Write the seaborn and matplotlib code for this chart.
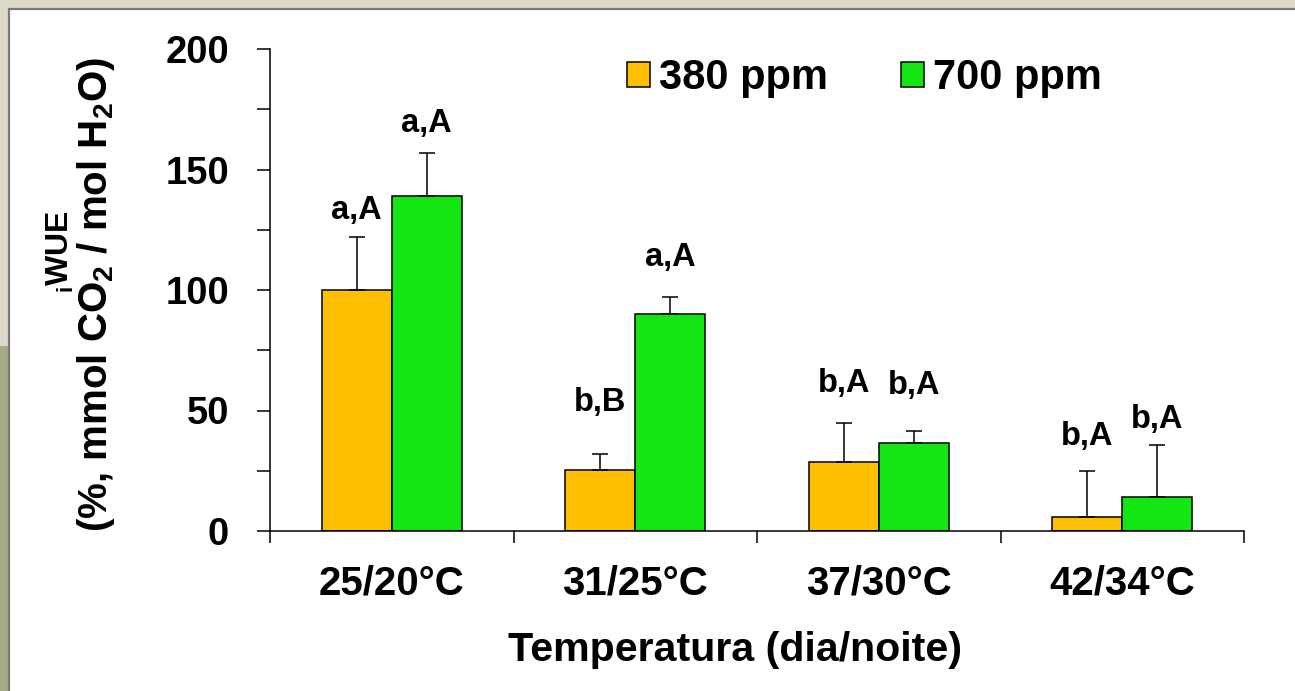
import numpy as np
import pandas as pd
import matplotlib
matplotlib.use("Agg")
import matplotlib.pyplot as plt
from matplotlib.patches import Rectangle
from matplotlib.lines import Line2D
import seaborn as sns

# --- data -------------------------------------------------------------
temperatures = ["25/20°C", "31/25°C", "37/30°C", "42/34°C"]
co2_levels = ["380 ppm", "700 ppm"]
wue_380 = [100, 25.5, 28.5, 6]
wue_700 = [139, 90, 36.5, 14]
err_380 = [22, 6.5, 16.5, 19]
err_700 = [18, 7, 5, 21.5]
letters_380 = ["a,A", "b,B", "b,A", "b,A"]
letters_700 = ["a,A", "a,A", "b,A", "b,A"]
y_ticks = [0, 50, 100, 150, 200]

# --- style ------------------------------------------------------------
sns.set_theme(style="white")
plt.rcParams["font.family"] = ["Liberation Sans", "DejaVu Sans"]
plt.rcParams["font.weight"] = "bold"
plt.rcParams["text.color"] = "black"
plt.rcParams["xtick.color"] = "black"
plt.rcParams["ytick.color"] = "black"
plt.rcParams["xtick.labelcolor"] = "black"
plt.rcParams["ytick.labelcolor"] = "black"
plt.rcParams["mathtext.fontset"] = "custom"
plt.rcParams["mathtext.rm"] = "Liberation Sans:bold"
plt.rcParams["mathtext.it"] = "Liberation Sans:bold"
plt.rcParams["mathtext.bf"] = "Liberation Sans:bold"

ORANGE = "#fdbf00"
GREEN = "#14e614"
LW = 1.1

W, H = 1295, 691
fig = plt.figure(figsize=(W / 100, H / 100), dpi=100, facecolor="#dedacb")

# slide-like backdrop with a white panel
fig.patches.append(Rectangle((0, 0), 9 / W, 0.5, transform=fig.transFigure,
                             facecolor="#a6aa88", edgecolor="none", zorder=-2))
fig.patches.append(Rectangle((9 / W, -0.01), 1.0, 1 - 9 / H + 0.01,
                             transform=fig.transFigure, facecolor="white",
                             edgecolor="#7a7a7a", linewidth=1.6, zorder=-1))
fig.lines.append(Line2D([9 / W, 1], [1 - 602 / H] * 2, transform=fig.transFigure,
                        color="#666666", linewidth=1.3, zorder=-1))

ax = fig.add_axes([270 / W, 1 - 531 / H, (1244 - 270) / W, (531 - 49) / H])
ax.set_facecolor("none")
ax.set_zorder(2)

df = pd.DataFrame({
    "Temperatura": temperatures * 2,
    "CO2": [co2_levels[0]] * len(temperatures) + [co2_levels[1]] * len(temperatures),
    "WUE": wue_380 + wue_700,
})

sns.barplot(data=df, x="Temperatura", y="WUE", hue="CO2", order=temperatures,
            hue_order=co2_levels, palette=[ORANGE, GREEN], width=0.575,
            edgecolor="black", linewidth=LW, errorbar=None, legend=False,
            saturation=1, ax=ax)

# one-sided error bars and significance letters
label_offsets = {0: [26, 51, 39, 34], 1: [29, 40, 45, 26]}
for i, (cont, vals, errs, letters) in enumerate(zip(
        ax.containers, [wue_380, wue_700], [err_380, err_700],
        [letters_380, letters_700])):
    xs = [b.get_x() + b.get_width() / 2 for b in cont]
    ax.errorbar(xs, vals, yerr=[np.zeros(len(vals)), errs], fmt="none",
                ecolor="black", elinewidth=LW, capsize=5.5, capthick=LW,
                zorder=1)
    for x, v, e, t, off in zip(xs, vals, errs, letters, label_offsets[i]):
        ax.annotate(t, (x, v + e), xytext=(0, off), textcoords="offset pixels",
                    ha="center", va="center", fontsize=23.5, fontweight="bold",
                    color="black")

# axes
ax.set_ylim(0, 200)
ax.set_xlim(-0.5, 3.5)
for s in ["top", "right"]:
    ax.spines[s].set_visible(False)
for s in ["left", "bottom"]:
    ax.spines[s].set_color("black")
    ax.spines[s].set_linewidth(LW)

ax.set_yticks(y_ticks)
ax.set_yticks(np.arange(0, 201, 25), minor=True)
ax.tick_params(axis="y", which="both", direction="out", length=9.4, width=LW,
               color="black", left=True, labelsize=27.5, pad=20)
ax.set_xticks(np.arange(-0.5, len(temperatures), 1.0))
ax.set_xticklabels([])
ax.set_xticks(np.arange(len(temperatures)), minor=True)
ax.set_xticklabels(temperatures, minor=True, fontsize=29, fontweight="bold")
ax.tick_params(axis="x", which="major", direction="out", length=8.6, width=LW,
               color="black", bottom=True)
ax.tick_params(axis="x", which="minor", length=0, pad=24)
for lab in ax.get_yticklabels():
    lab.set_fontweight("bold")
ax.set_xlabel("")
ax.set_ylabel("")

# axis titles
fig.text(60 / W, 1 - 252 / H, r"${}_{\mathrm{i}}$WUE", rotation=90,
         ha="center", va="center", fontsize=23, fontweight="bold")
fig.text(96 / W, 1 - 295 / H, r"(%, mmol CO$_2$ / mol H$_2$O)", rotation=90,
         ha="center", va="center", fontsize=29, fontweight="bold")
fig.text(735 / W, 1 - 650 / H, "Temperatura (dia/noite)", ha="center",
         va="center", fontsize=29.6, fontweight="bold")

# legend
handles = [Rectangle((0, 0), 1, 1, facecolor=c, edgecolor="black", linewidth=LW)
           for c in [ORANGE, GREEN]]
ax.legend(handles, co2_levels, loc="upper left",
          bbox_to_anchor=(627 / W, 1 - 58 / H), bbox_transform=fig.transFigure,
          ncol=2, frameon=False, prop={"size": 30, "weight": "bold"},
          handlelength=0.55, handleheight=0.55, handletextpad=0.22,
          columnspacing=1.75, borderpad=0, borderaxespad=0)

fig.savefig("out.png", dpi=100, facecolor=fig.get_facecolor())
